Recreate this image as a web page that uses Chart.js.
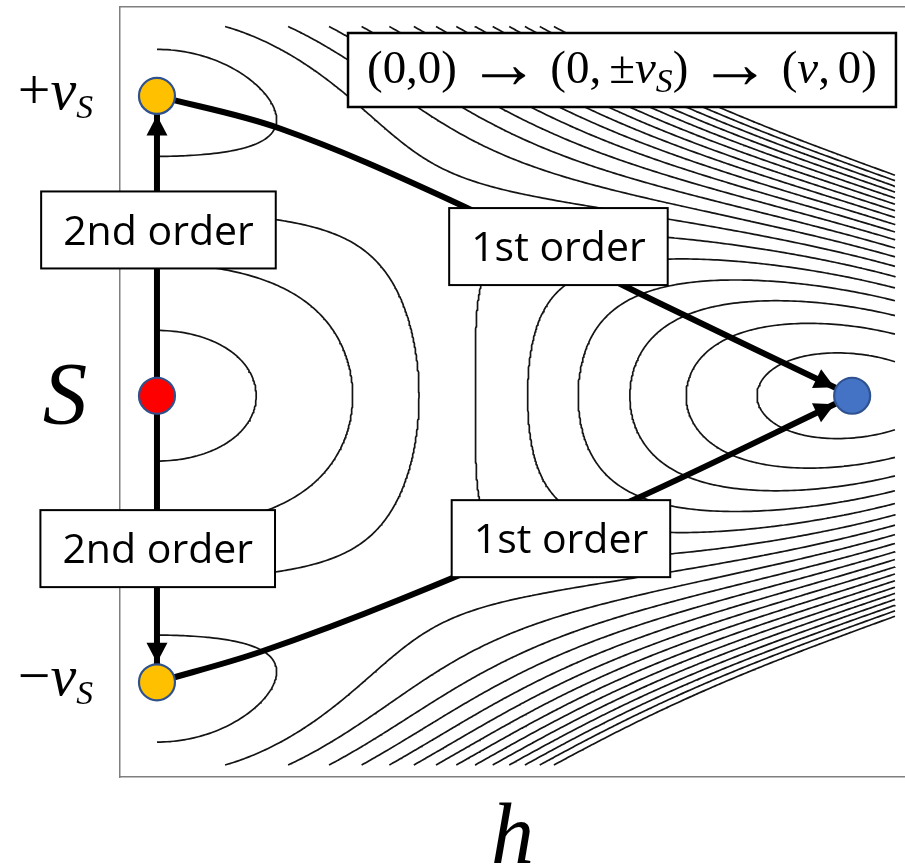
<!DOCTYPE html>
<html>
<head>
<meta charset="utf-8">
<script src="https://cdn.jsdelivr.net/npm/chart.js@4/dist/chart.umd.min.js"></script>
<style>
  html, body { margin: 0; padding: 0; background: #ffffff; overflow: hidden; }
  #wrap { width: 905px; height: 868px; }
</style>
</head>
<body>
<div id="wrap"><canvas id="c" width="905" height="868"></canvas></div>
<script>
// Two-field potential V(h,S) = λh (h² − v²)² + λs (S² − w²)² + λhs h² S²
const LAMBDA_H  = 1.0;
const V_SQ      = 0.887;
const LAMBDA_S  = 0.80;
const W_SQ      = 0.65;
const LAMBDA_HS = 5.55;

// Iso-potential levels that are drawn
const contourLevels = [0.389, 0.477, 0.565, 0.653, 0.741, 0.829, 0.917, 1.005, 1.093, 1.181,
                       1.269, 1.357, 1.445, 1.533, 1.621, 1.709, 1.797, 1.885, 1.973, 2.061];

// Field region that is sampled, and the full axis extent (frame)
const hField = [0, 1];
const sField = [-1, 1];
const hAxis  = [-0.0501, 1.0136];
const sAxis  = [-1.0325, 1.0528];

// Stationary points of the potential
const pointH      = [0, 0, 0, 0.942];
const pointS      = [0, 0.812, -0.776, 0];
const pointColors = ['#FF0000', '#FFC000', '#FFC000', '#4472C4'];

// Transition paths (start point → end point)
const path2ndUpH   = [0, 0];
const path2ndUpS   = [0, 0.812];
const path2ndDownH = [0, 0];
const path2ndDownS = [0, -0.776];
const path1stUpH   = [0, 0.1667, 0.397, 0.672, 0.942];
const path1stUpS   = [0.812, 0.7237, 0.5302, 0.2593, 0];
const path1stDownH = [0, 0.1396, 0.3293, 0.6409, 0.942];
const path1stDownS = [-0.776, -0.694, -0.552, -0.2864, 0];

// Path labels, anchored in (h, S)
const boxText = ['2nd order', '2nd order', '1st order', '1st order'];
const boxH    = [0.002, 0.001, 0.544, 0.5474];
const boxS    = [0.449, -0.414, 0.404, -0.387];

// Axis labels
const sTickValues = [0.812, 0, -0.776];
const sTickText   = ['+v_S', 'S', '\u2212v_S'];
const hTitle      = 'h';
const chainText   = '(0,0) \u2192 (0,\u2009\u00B1v_S) \u2192 (v,\u20090)';

function potential(h, s) {
  return LAMBDA_H * (h * h - V_SQ) ** 2 + LAMBDA_S * (s * s - W_SQ) ** 2 + LAMBDA_HS * h * h * s * s;
}

// Marching squares on a regular grid, segments chained into polylines
function traceLevel(level, nx, ny) {
  const [h0, h1] = hField, [s0, s1] = sField;
  const dh = (h1 - h0) / nx, ds = (s1 - s0) / ny;
  const W = nx + 1;
  const g = new Float64Array(W * (ny + 1));
  for (let j = 0; j <= ny; j++)
    for (let i = 0; i <= nx; i++) g[j * W + i] = potential(h0 + i * dh, s0 + j * ds);
  const val = (i, j) => g[j * W + i];
  const pts = new Map(), adj = new Map();
  const hEdge = (i, j) => {
    const k = 2 * (j * W + i);
    if (!pts.has(k)) { const a = val(i, j), b = val(i + 1, j); const t = (level - a) / (b - a); pts.set(k, [h0 + (i + t) * dh, s0 + j * ds]); }
    return k;
  };
  const vEdge = (i, j) => {
    const k = 2 * (j * W + i) + 1;
    if (!pts.has(k)) { const a = val(i, j), b = val(i, j + 1); const t = (level - a) / (b - a); pts.set(k, [h0 + i * dh, s0 + (j + t) * ds]); }
    return k;
  };
  const link = (a, b) => {
    if (!adj.has(a)) adj.set(a, []);
    if (!adj.has(b)) adj.set(b, []);
    adj.get(a).push(b); adj.get(b).push(a);
  };
  const table = {1: [[3, 0]], 2: [[0, 1]], 3: [[3, 1]], 4: [[1, 2]], 6: [[0, 2]], 7: [[3, 2]],
                 8: [[2, 3]], 9: [[0, 2]], 11: [[1, 2]], 12: [[1, 3]], 13: [[0, 1]], 14: [[0, 3]]};
  for (let j = 0; j < ny; j++) {
    for (let i = 0; i < nx; i++) {
      const a = val(i, j), b = val(i + 1, j), c = val(i + 1, j + 1), d = val(i, j + 1);
      const idx = (a >= level ? 1 : 0) | (b >= level ? 2 : 0) | (c >= level ? 4 : 0) | (d >= level ? 8 : 0);
      if (idx === 0 || idx === 15) continue;
      const E = [() => hEdge(i, j), () => vEdge(i + 1, j), () => hEdge(i, j + 1), () => vEdge(i, j)];
      let pairs = table[idx];
      if (idx === 5 || idx === 10) {
        const centreHigh = (a + b + c + d) / 4 >= level;
        if (idx === 5) pairs = centreHigh ? [[0, 1], [2, 3]] : [[3, 0], [1, 2]];
        else pairs = centreHigh ? [[3, 0], [1, 2]] : [[0, 1], [2, 3]];
      }
      pairs.forEach(([p, q]) => link(E[p](), E[q]()));
    }
  }
  const used = new Set(), lines = [];
  const walk = (start) => {
    const line = [start]; used.add(start);
    let cur = start;
    for (;;) {
      const nb = adj.get(cur).find(n => !used.has(n));
      if (nb === undefined) break;
      used.add(nb); line.push(nb); cur = nb;
    }
    if (line.length > 2 && adj.get(cur).includes(start)) line.push(start);
    return line.map(k => pts.get(k));
  };
  adj.forEach((nbs, k) => { if (nbs.length === 1 && !used.has(k)) lines.push(walk(k)); });
  adj.forEach((nbs, k) => { if (!used.has(k)) lines.push(walk(k)); });
  return lines;
}

const contourDatasets = contourLevels.map(level => {
  const data = [];
  traceLevel(level, 220, 440).forEach(line => {
    line.forEach(([h, s]) => data.push({x: h, y: s}));
    data.push({x: NaN, y: NaN});
  });
  return {
    label: 'V = ' + level,
    data,
    showLine: true,
    borderColor: '#141414',
    borderWidth: 1.7,
    borderJoinStyle: 'round',
    pointRadius: 0,
    spanGaps: false,
    order: 3
  };
});

const zip = (hs, ss) => hs.map((h, i) => ({x: h, y: ss[i]}));
const arrowPaths = [
  zip(path2ndUpH, path2ndUpS),
  zip(path2ndDownH, path2ndDownS),
  zip(path1stUpH, path1stUpS),
  zip(path1stDownH, path1stDownS)
];
const arrowDatasets = arrowPaths.map(p => ({
  label: 'path',
  data: p,
  showLine: true,
  borderColor: '#000000',
  borderWidth: 6,
  tension: 0.35,
  pointRadius: 0,
  order: 1
}));

const pointDataset = {
  label: 'stationary points',
  data: zip(pointH, pointS),
  pointRadius: 18,
  pointBorderWidth: 2.2,
  pointBackgroundColor: pointColors,
  pointBorderColor: '#2F528F',
  showLine: false,
  order: 0
};

// Small math-text renderer: letters italic, "_X" a subscript, arrows enlarged
const SERIF = '"Liberation Serif", "Times New Roman", serif';
function mathRuns(str) {
  const runs = [];
  for (let i = 0; i < str.length; i++) {
    const ch = str[i];
    if (ch === '_') { runs.push({t: str[++i], kind: 'sub'}); continue; }
    if (ch === ' ') { runs.push({t: '', kind: 'gap', em: 0.22}); continue; }
    if (ch === '\u2009') { runs.push({t: '', kind: 'gap', em: 0.17}); continue; }
    if (ch === '\u2192') { runs.push({t: ch, kind: 'sym'}); continue; }
    runs.push({t: ch, kind: /[A-Za-z]/.test(ch) ? 'it' : 'up'});
  }
  return runs;
}
function runFont(kind, size, subScale) {
  if (kind === 'up') return `${size}px ${SERIF}`;
  if (kind === 'it') return `italic ${size}px ${SERIF}`;
  if (kind === 'sym') return `${size * 1.55}px ${SERIF}`;
  return `italic ${size * subScale}px ${SERIF}`;
}
function runWidth(ctx, r, size, subScale) {
  if (r.kind === 'gap') return r.em * size;
  ctx.font = runFont(r.kind, size, subScale);
  return ctx.measureText(r.t).width;
}
function mathWidth(ctx, runs, size, subScale) {
  return runs.reduce((w, r) => w + runWidth(ctx, r, size, subScale), 0);
}
function drawMath(ctx, runs, x, baseline, size, subScale, subDrop) {
  ctx.textAlign = 'left';
  ctx.textBaseline = 'alphabetic';
  let cx = x;
  runs.forEach(r => {
    const w = runWidth(ctx, r, size, subScale);
    if (r.kind !== 'gap') {
      ctx.font = runFont(r.kind, size, subScale);
      let by = baseline;
      if (r.kind === 'sub') by += subDrop * size;
      if (r.kind === 'sym') by += 0.1 * size;
      ctx.fillText(r.t, cx, by);
    }
    cx += w;
  });
}

function arrowHead(ctx, from, to, radius, len, width) {
  let dx = to[0] - from[0], dy = to[1] - from[1];
  const d = Math.hypot(dx, dy); dx /= d; dy /= d;
  const tx = to[0] - dx * radius, ty = to[1] - dy * radius;
  const bx = tx - dx * len, by = ty - dy * len;
  ctx.beginPath();
  ctx.moveTo(tx, ty);
  ctx.lineTo(bx - dy * width / 2, by + dx * width / 2);
  ctx.lineTo(bx + dy * width / 2, by - dx * width / 2);
  ctx.closePath();
  ctx.fillStyle = '#000000';
  ctx.fill();
}

const overlay = {
  id: 'overlay',
  afterDatasetsDraw(chart) {
    const {ctx, chartArea, scales: {x, y}} = chart;
    const px = (h, s) => [x.getPixelForValue(h), y.getPixelForValue(s)];
    ctx.save();

    // arrowheads at the end of each path, touching the target marker
    arrowPaths.forEach(p => {
      const n = p.length;
      arrowHead(ctx, px(p[n - 2].x, p[n - 2].y), px(p[n - 1].x, p[n - 1].y), 19.5, 20, 21);
    });

    // path labels
    ctx.font = '41px "Open Sans", "Noto Sans", sans-serif';
    boxText.forEach((t, i) => {
      const [cx, cy] = px(boxH[i], boxS[i]);
      const w = ctx.measureText(t).width + 44, hgt = 77;
      ctx.fillStyle = '#ffffff';
      ctx.fillRect(cx - w / 2, cy - hgt / 2, w, hgt);
      ctx.lineWidth = 2;
      ctx.strokeStyle = '#000000';
      ctx.strokeRect(cx - w / 2, cy - hgt / 2, w, hgt);
      ctx.fillStyle = '#000000';
      ctx.textAlign = 'center';
      ctx.textBaseline = 'alphabetic';
      ctx.fillText(t, cx, cy + 14.6);
    });

    // transition chain caption
    const runs = mathRuns(chainText);
    let size = 48;
    size *= 510 / mathWidth(ctx, runs, size, 0.72);
    const tw = mathWidth(ctx, runs, size, 0.72);
    const right = x.getPixelForValue(1) + 1, top = chartArea.top + 26;
    const bw = tw + 38, bh = 74;
    ctx.fillStyle = '#ffffff';
    ctx.fillRect(right - bw, top, bw, bh);
    ctx.lineWidth = 2.5;
    ctx.strokeStyle = '#000000';
    ctx.strokeRect(right - bw, top, bw, bh);
    ctx.fillStyle = '#000000';
    drawMath(ctx, runs, right - bw + 19, top + 50, size, 0.72, 0.2);

    // S-axis labels
    sTickValues.forEach((v, i) => {
      const py = y.getPixelForValue(v);
      const txt = sTickText[i];
      if (txt === 'S') {
        ctx.font = `italic 89px ${SERIF}`;
        ctx.textAlign = 'center';
        ctx.textBaseline = 'alphabetic';
        ctx.fillStyle = '#000000';
        ctx.fillText(txt, chartArea.left - 55, py + 27);
      } else {
        const r = mathRuns(txt);
        const w = mathWidth(ctx, r, 58, 0.58);
        ctx.fillStyle = '#000000';
        drawMath(ctx, r, chartArea.left - 27 - w, py + 13, 58, 0.58, 0.15);
      }
    });

    // h-axis title
    ctx.font = `italic 86px ${SERIF}`;
    ctx.textAlign = 'center';
    ctx.textBaseline = 'alphabetic';
    ctx.fillStyle = '#000000';
    ctx.fillText(hTitle, (chartArea.left + chartArea.right) / 2, chartArea.bottom + 86);

    ctx.restore();
  }
};

const frame = {display: true, color: '#7f7f7f', width: 1.5};
new Chart(document.getElementById('c'), {
  type: 'scatter',
  data: { datasets: [pointDataset, ...arrowDatasets, ...contourDatasets] },
  options: {
    responsive: false,
    animation: false,
    events: [],
    devicePixelRatio: 1,
    layout: { autoPadding: false, padding: { left: 120, top: 7, right: 0, bottom: 91 } },
    plugins: { legend: { display: false }, tooltip: { enabled: false }, title: { display: false } },
    scales: {
      x: {
        type: 'linear', position: 'bottom', min: hAxis[0], max: hAxis[1],
        grid: { display: false, drawTicks: false }, ticks: { display: false }, border: frame
      },
      xTop: {
        type: 'linear', position: 'top', min: hAxis[0], max: hAxis[1],
        grid: { display: false, drawTicks: false }, ticks: { display: false }, border: frame
      },
      y: {
        type: 'linear', position: 'left', min: sAxis[0], max: sAxis[1],
        grid: { display: false, drawTicks: false }, ticks: { display: false }, border: frame
      }
    }
  },
  plugins: [overlay]
});
</script>
</body>
</html>
